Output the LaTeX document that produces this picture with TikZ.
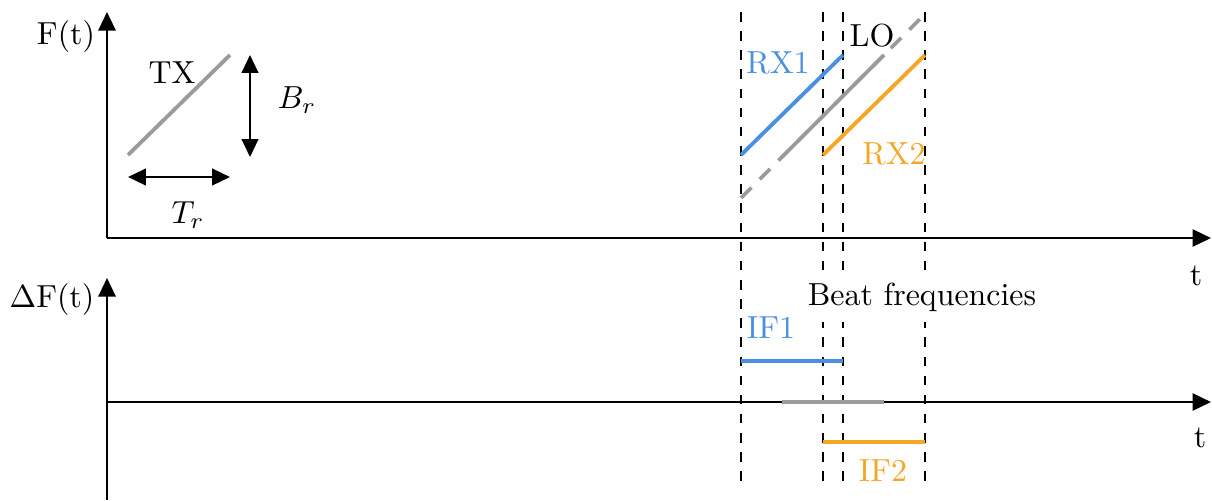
\documentclass[tikz,border=0pt]{standalone}
\usetikzlibrary{arrows.meta}
\definecolor{rxblue}{RGB}{74,144,226}
\definecolor{rxorange}{RGB}{245,166,35}
\definecolor{logray}{RGB}{155,155,155}
\begin{document}
\begin{tikzpicture}[x=0.3135pt,y=-0.3135pt,
  axis/.style={line width=0.65pt,-{Triangle[length=5.8pt,width=5.4pt]}},
  dim/.style={line width=0.65pt,{Triangle[length=5.6pt,width=5.2pt]}-{Triangle[length=5.6pt,width=5.2pt]}},
  guide/.style={line width=0.6pt,dashed},
  sig/.style={line width=1.2pt},
  lbl/.style={inner sep=0pt,font=\normalsize}]
\useasboundingbox (0,0) rectangle (1212,500);
% axes
\coordinate (o1) at (107,238);
\coordinate (y1) at (107,12);
\coordinate (x1) at (1211,238);
\coordinate (o2a) at (107,500);
\coordinate (y2) at (107,278);
\coordinate (o2) at (107,402);
\coordinate (x2) at (1211,402);
\draw[axis] (o1) -- (y1);
\draw[axis] (o1) -- (x1);
\draw[axis] (o2a) -- (y2);
\draw[axis] (o2) -- (x2);
% guides
\foreach \n/\x in {a/741,b/823,c/843,d/925}{
  \coordinate (g\n t) at (\x,12);
  \coordinate (g\n b) at (\x,485);
  \draw[guide] (g\n t) -- (g\n b);
}
% TX chirp
\coordinate (tx0) at (128,155);
\coordinate (tx1) at (230,55);
\draw[sig,logray] (tx0) -- (tx1);
\coordinate (tr0) at (128,177);
\coordinate (tr1) at (230,177);
\draw[dim] (tr0) -- (tr1);
\coordinate (br0) at (250,55);
\coordinate (br1) at (250,157);
\draw[dim] (br0) -- (br1);
% LO
\coordinate (lo0) at (741,198);
\coordinate (lo1) at (925,14);
\coordinate (los0) at (782,157);
\coordinate (los1) at (884,55);
\draw[sig,logray,dash pattern=on 4.6pt off 3.7pt] (lo0) -- (lo1);
\draw[sig,logray] (los0) -- (los1);
% RX1, RX2
\coordinate (r10) at (741,155);
\coordinate (r11) at (843,55);
\draw[sig,rxblue] (r10) -- (r11);
\coordinate (r20) at (823,155);
\coordinate (r21) at (925,55);
\draw[sig,rxorange] (r20) -- (r21);
% beat
\coordinate (if10) at (741,361);
\coordinate (if11) at (843,361);
\draw[sig,rxblue] (if10) -- (if11);
\coordinate (b0) at (782,402);
\coordinate (b1) at (884,402);
\draw[sig,logray] (b0) -- (b1);
\coordinate (if20) at (823,442);
\coordinate (if21) at (925,442);
\draw[sig,rxorange] (if20) -- (if21);
% labels
\node[lbl] (lF) at (66,37) {F(t)};
\node[lbl] (lTX) at (172,73) {TX};
\node[lbl] (lBr) at (297,100) {$B_r$};
\node[lbl] (lTr) at (188,215) {$T_r$};
\node[lbl,text=rxblue] (lRX1) at (778,63) {RX1};
\node[lbl] (lLO) at (872,36) {LO};
\node[lbl,text=rxorange] (lRX2) at (894,154) {RX2};
\node[lbl] (lt1) at (1196,276) {t};
\node[lbl] (lDF) at (52,300) {$\Delta$F(t)};
\node[lbl,fill=white,inner sep=3.3pt] (lBeat) at (922,297) {Beat frequencies};
\node[lbl,text=rxblue] (lIF1) at (771,328) {IF1};
\node[lbl,text=rxorange] (lIF2) at (883,471) {IF2};
\node[lbl] (lt2) at (1200,438) {t};
\end{tikzpicture}
\end{document}
